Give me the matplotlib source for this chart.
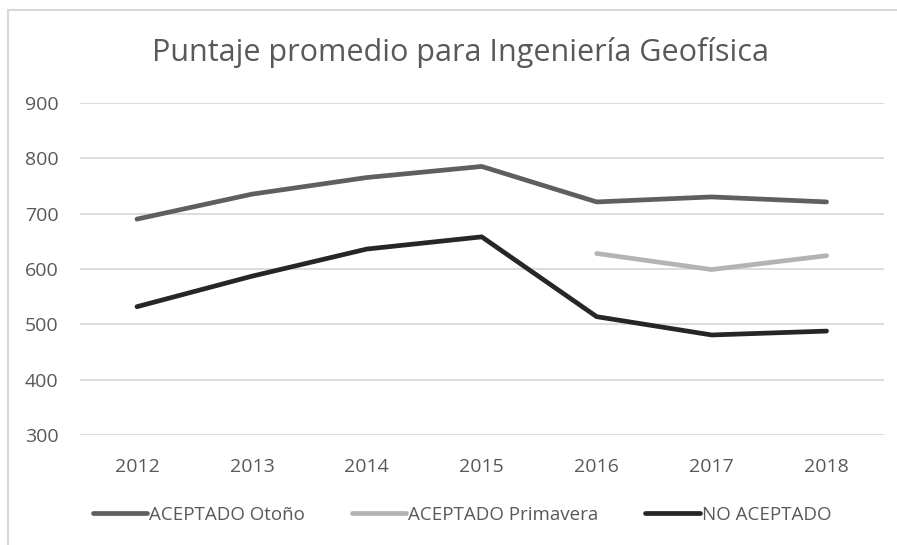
import matplotlib
matplotlib.use("Agg")
import matplotlib.pyplot as plt
from matplotlib.lines import Line2D

plt.rcParams['font.family'] = ['Open Sans', 'DejaVu Sans']

# data
years = ['2012', '2013', '2014', '2015', '2016', '2017', '2018']
otono = [690, 735, 765, 785, 721, 730, 721]
prim_years = ['2016', '2017', '2018']
primavera = [628, 599, 624]
no_aceptado = [532, 587, 636, 658, 514, 481, 488]

title = 'Puntaje promedio para Ingeniería Geofísica'
labels = ['ACEPTADO Otoño', 'ACEPTADO Primavera', 'NO ACEPTADO']
colors = ['#5f5f5f', '#b3b3b3', '#262626']
text_col = '#595959'

W, H = 897, 545
fig = plt.figure(figsize=(W / 100, H / 100), dpi=100)
ax = fig.add_axes([79.5 / W, 1 - 435.3 / H, (884 - 79.5) / W, (435.3 - 102.7) / H])

x = list(range(len(years)))
xp = [years.index(y) for y in prim_years]
lw = 3.4
ax.plot(x, otono, color=colors[0], lw=lw, solid_capstyle='round', solid_joinstyle='round', zorder=3)
ax.plot(xp, primavera, color=colors[1], lw=lw, solid_capstyle='round', solid_joinstyle='round', zorder=3)
ax.plot(x, no_aceptado, color=colors[2], lw=lw, solid_capstyle='round', solid_joinstyle='round', zorder=3)

ax.set_xlim(-0.5, len(years) - 0.5)
ax.set_ylim(300, 900)
ax.set_yticks(range(300, 901, 100))
ax.set_xticks(x)
ax.set_xticklabels(years)
ax.grid(axis='y', color='#d9d9d9', lw=1.3)
ax.set_axisbelow(True)
for s in ax.spines.values():
    s.set_visible(False)
ax.tick_params(length=0, labelsize=14, labelcolor=text_col)
ax.tick_params(axis='y', pad=15)
ax.tick_params(axis='x', pad=16)

fig.text(460 / W, 1 - 52 / H, title, ha='center', va='center', fontsize=22, color=text_col)

handles = [Line2D([], [], color=c, lw=lw, solid_capstyle='round') for c in colors]
fig.legend(handles, labels, loc='center', bbox_to_anchor=(462 / W, 1 - 515 / H), ncol=3,
           frameon=False, fontsize=13.5, labelcolor=text_col, handlelength=2.9,
           handletextpad=0.1, columnspacing=2.5)

# chart area border (top and left edges visible)
fig.add_artist(Line2D([8 / W, 8 / W], [0, 1 - 10 / H], color='#d9d9d9', lw=1.5))
fig.add_artist(Line2D([8 / W, 1], [1 - 10 / H, 1 - 10 / H], color='#d9d9d9', lw=1.5))

fig.savefig('out.png', dpi=100)
